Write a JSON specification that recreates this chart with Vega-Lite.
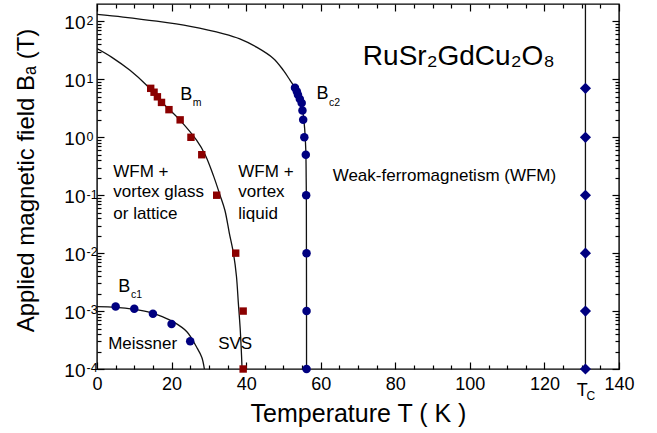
{
  "$schema": "https://vega.github.io/schema/vega-lite/v6.json",
  "width": 522,
  "height": 365,
  "autosize": {"type": "none"},
  "padding": {"left": 97, "top": 4, "right": 38, "bottom": 64},
  "background": "white",
  "config": {
    "view": {"stroke": "black", "strokeWidth": 1.4},
    "font": "Liberation Sans",
    "axis": {
      "domain": false,
      "grid": false,
      "tickColor": "black",
      "tickWidth": 1.2,
      "labelColor": "black",
      "titleColor": "black",
      "labelFont": "Liberation Sans",
      "titleFont": "Liberation Sans",
      "titleFontWeight": "normal",
      "labelFlush": false,
      "labelOverlap": false
    }
  },
  "datasets": {
    "curves": [
      {"curve": "Bc2", "T": 0, "B": 132},
      {"curve": "Bc2", "T": 7, "B": 119},
      {"curve": "Bc2", "T": 16, "B": 101},
      {"curve": "Bc2", "T": 25, "B": 82},
      {"curve": "Bc2", "T": 34, "B": 61},
      {"curve": "Bc2", "T": 38.3, "B": 50},
      {"curve": "Bc2", "T": 42.8, "B": 36},
      {"curve": "Bc2", "T": 47.3, "B": 23},
      {"curve": "Bc2", "T": 50, "B": 14.3},
      {"curve": "Bc2", "T": 51.8, "B": 9.6},
      {"curve": "Bc2", "T": 53, "B": 7.3},
      {"curve": "Bc2", "T": 54, "B": 5.2},
      {"curve": "Bc2", "T": 54.8, "B": 3.8},
      {"curve": "Bc2", "T": 55.3, "B": 2.5},
      {"curve": "Bc2", "T": 55.7, "B": 1.4},
      {"curve": "Bc2", "T": 56, "B": 0.6},
      {"curve": "Bc2", "T": 56.1, "B": 0.2},
      {"curve": "Bc2", "T": 56.15, "B": 0.08},
      {"curve": "Bc2", "T": 56.2, "B": 0.0001},
      {"curve": "Bm", "T": 0, "B": 34},
      {"curve": "Bm", "T": 4, "B": 24},
      {"curve": "Bm", "T": 8.85, "B": 14.3},
      {"curve": "Bm", "T": 13.3, "B": 7.9},
      {"curve": "Bm", "T": 17.8, "B": 3.8},
      {"curve": "Bm", "T": 22.3, "B": 1.96},
      {"curve": "Bm", "T": 26.7, "B": 0.89},
      {"curve": "Bm", "T": 29, "B": 0.5},
      {"curve": "Bm", "T": 31.2, "B": 0.22},
      {"curve": "Bm", "T": 33, "B": 0.1},
      {"curve": "Bm", "T": 34.3, "B": 0.055},
      {"curve": "Bm", "T": 35.5, "B": 0.022},
      {"curve": "Bm", "T": 36.6, "B": 0.0099},
      {"curve": "Bm", "T": 37.4, "B": 0.004},
      {"curve": "Bm", "T": 37.9, "B": 0.0014},
      {"curve": "Bm", "T": 38.4, "B": 0.0005},
      {"curve": "Bm", "T": 38.8, "B": 0.00015},
      {"curve": "Bm", "T": 38.9, "B": 0.0001},
      {"curve": "Bc1", "T": 0, "B": 0.00119},
      {"curve": "Bc1", "T": 5, "B": 0.00116},
      {"curve": "Bc1", "T": 10, "B": 0.00107},
      {"curve": "Bc1", "T": 14.2, "B": 0.00095},
      {"curve": "Bc1", "T": 17.5, "B": 0.0008},
      {"curve": "Bc1", "T": 20.5, "B": 0.00065},
      {"curve": "Bc1", "T": 24.1, "B": 0.00044},
      {"curve": "Bc1", "T": 26.7, "B": 0.00024},
      {"curve": "Bc1", "T": 28.1, "B": 0.00016},
      {"curve": "Bc1", "T": 28.8, "B": 0.0001},
      {"curve": "Tc", "T": 131, "B": 0.0001},
      {"curve": "Tc", "T": 131, "B": 200}
    ],
    "points": [
      {"series": "Bc2", "T": 53.1, "B": 7.2},
      {"series": "Bc2", "T": 53.6, "B": 6.2},
      {"series": "Bc2", "T": 53.9, "B": 5.4},
      {"series": "Bc2", "T": 54.4, "B": 4.6},
      {"series": "Bc2", "T": 54.9, "B": 3.9},
      {"series": "Bc2", "T": 55.1, "B": 2.9},
      {"series": "Bc2", "T": 55.3, "B": 2},
      {"series": "Bc2", "T": 55.6, "B": 1},
      {"series": "Bc2", "T": 56, "B": 0.5},
      {"series": "Bc2", "T": 56.1, "B": 0.1},
      {"series": "Bc2", "T": 56.2, "B": 0.01},
      {"series": "Bc2", "T": 56.2, "B": 0.001},
      {"series": "Bc2", "T": 56.2, "B": 0.0001},
      {"series": "Bc1", "T": 5, "B": 0.0012},
      {"series": "Bc1", "T": 10, "B": 0.0011},
      {"series": "Bc1", "T": 15, "B": 0.0009},
      {"series": "Bc1", "T": 20, "B": 0.0006},
      {"series": "Bc1", "T": 25, "B": 0.0003},
      {"series": "Bm", "T": 14.4, "B": 7},
      {"series": "Bm", "T": 15.3, "B": 6},
      {"series": "Bm", "T": 16.2, "B": 5},
      {"series": "Bm", "T": 17.3, "B": 4},
      {"series": "Bm", "T": 19.3, "B": 3},
      {"series": "Bm", "T": 22.3, "B": 2},
      {"series": "Bm", "T": 25.2, "B": 1},
      {"series": "Bm", "T": 28.1, "B": 0.5},
      {"series": "Bm", "T": 32.1, "B": 0.1},
      {"series": "Bm", "T": 37.2, "B": 0.01},
      {"series": "Bm", "T": 39.2, "B": 0.001},
      {"series": "Bm", "T": 39.2, "B": 0.0001},
      {"series": "Tc", "T": 131, "B": 7},
      {"series": "Tc", "T": 131, "B": 1},
      {"series": "Tc", "T": 131, "B": 0.1},
      {"series": "Tc", "T": 131, "B": 0.01},
      {"series": "Tc", "T": 131, "B": 0.001},
      {"series": "Tc", "T": 131, "B": 0.0001}
    ],
    "notes": [
      {"T": 4.37, "B": 0.207, "text": "WFM +"},
      {"T": 4.37, "B": 0.0935, "text": "vortex glass"},
      {"T": 4.37, "B": 0.0396, "text": "or lattice"},
      {"T": 37.9, "B": 0.207, "text": "WFM +"},
      {"T": 37.9, "B": 0.0935, "text": "vortex"},
      {"T": 37.9, "B": 0.0396, "text": "liquid"},
      {"T": 63.2, "B": 0.174, "text": "Weak-ferromagnetism (WFM)"},
      {"T": 3.0, "B": 0.000219, "text": "Meissner"},
      {"T": 32.5, "B": 0.000219, "text": "SVS"}
    ],
    "syms": [
      {"T": 22.3, "B": 4.44, "text": "B"},
      {"T": 58.9, "B": 4.65, "text": "B"},
      {"T": 5.7, "B": 0.00215, "text": "B"}
    ],
    "subs": [
      {"T": 25.7, "B": 3.5, "text": "m"},
      {"T": 62.2, "B": 3.5, "text": "c2"},
      {"T": 9.1, "B": 0.0017, "text": "c1"}
    ],
    "formula": [
      {"T": 71.3, "B": 17.4, "text": "RuSr₂GdCu₂O₈"}
    ]
  },
  "layer": [
    {
      "data": {"name": "curves"},
      "mark": {"type": "line", "color": "#111111", "strokeWidth": 1.3, "interpolate": "catmull-rom", "clip": true},
      "encoding": {
        "x": {"field": "T", "type": "quantitative", "scale": {"domain": [0, 140], "nice": false, "zero": false},
          "axis": {"orient": "bottom", "values": [0, 20, 40, 60, 80, 100, 120, 140], "tickSize": -7, "labelFontSize": 18, "labelPadding": 13.8, "title": "Temperature  T ( K )", "titleFontSize": 25, "titlePadding": 8}},
        "y": {"field": "B", "type": "quantitative", "scale": {"type": "log", "domain": [0.0001, 200], "nice": false},
          "axis": {"orient": "left", "values": [0.0001, 0.001, 0.01, 0.1, 1, 10, 100], "tickSize": -7, "labelExpr": "'10'", "labelFontSize": 19, "labelPadding": 19, "labelAlign": "right", "labelBaseline": "middle", "labelOffset": 1.5, "title": "Applied  magnetic field  Bₐ (T)", "titleFontSize": 24, "titlePadding": 25, "titleY": 176}},
        "detail": {"field": "curve"},
        "order": {"field": "B", "sort": "descending"}
      }
    },
    {
      "data": {"name": "points"},
      "transform": [{"filter": "datum.series == 'Bc2' || datum.series == 'Bc1'"}],
      "mark": {"type": "point", "shape": "circle", "filled": true, "size": 72, "color": "#000080", "opacity": 1},
      "encoding": {
        "x": {"field": "T", "type": "quantitative", "scale": {"domain": [0, 140], "nice": false, "zero": false},
          "axis": {"orient": "bottom", "values": [5, 10, 15, 25, 30, 35, 45, 50, 55, 65, 70, 75, 85, 90, 95, 105, 110, 115, 125, 130, 135], "tickSize": -4, "labelExpr": "datum.value == 130 ? 'T' : ''", "labelFontSize": 18, "labelPadding": 16.8, "title": null}},
        "y": {"field": "B", "type": "quantitative", "scale": {"type": "log", "domain": [0.0001, 200], "nice": false},
          "axis": {"orient": "left", "values": [0.0001, 0.001, 0.01, 0.1, 1, 10, 100], "ticks": false, "labelExpr": "'' + round(log(datum.value) / LN10)", "labelFontSize": 12.5, "labelPadding": 11, "labelAlign": "left", "labelBaseline": "middle", "labelOffset": -1.2, "title": null}}
      }
    },
    {
      "data": {"name": "points"},
      "transform": [{"filter": "datum.series == 'Bm'"}],
      "mark": {"type": "point", "shape": "square", "filled": true, "size": 55, "color": "#8b0000", "opacity": 1},
      "encoding": {
        "x": {"field": "T", "type": "quantitative", "scale": {"domain": [0, 140], "nice": false, "zero": false},
          "axis": {"orient": "top", "values": [0, 20, 40, 60, 80, 100, 120, 140], "tickSize": -7, "labels": false, "title": null}},
        "y": {"field": "B", "type": "quantitative", "scale": {"type": "log", "domain": [0.0001, 200], "nice": false},
          "axis": {"orient": "left", "values": [0.0002, 0.0003, 0.0004, 0.0005, 0.0006, 0.0007, 0.0008, 0.0009, 0.002, 0.003, 0.004, 0.005, 0.006, 0.007, 0.008, 0.009, 0.02, 0.03, 0.04, 0.05, 0.06, 0.07, 0.08, 0.09, 0.2, 0.3, 0.4, 0.5, 0.6, 0.7, 0.8, 0.9, 2, 3, 4, 5, 6, 7, 8, 9, 20, 30, 40, 50, 60, 70, 80, 90], "tickSize": -4, "labels": false, "title": null}}
      }
    },
    {
      "data": {"name": "points"},
      "transform": [{"filter": "datum.series == 'Tc'"}],
      "mark": {"type": "point", "shape": "diamond", "filled": true, "size": 125, "color": "#000080", "opacity": 1},
      "encoding": {
        "x": {"field": "T", "type": "quantitative", "scale": {"domain": [0, 140], "nice": false, "zero": false},
          "axis": {"orient": "top", "values": [5, 10, 15, 25, 30, 35, 45, 50, 55, 65, 70, 75, 85, 90, 95, 105, 110, 115, 125, 130, 135], "tickSize": -4, "labels": false, "title": null}},
        "y": {"field": "B", "type": "quantitative", "scale": {"type": "log", "domain": [0.0001, 200], "nice": false},
          "axis": {"orient": "right", "values": [0.0001, 0.001, 0.01, 0.1, 1, 10, 100], "tickSize": -7, "labels": false, "title": null}}
      }
    },
    {
      "data": {"name": "notes"},
      "mark": {"type": "text", "align": "left", "baseline": "alphabetic", "fontSize": 17, "font": "Liberation Sans", "color": "black"},
      "encoding": {
        "x": {"field": "T", "type": "quantitative", "scale": {"domain": [0, 140], "nice": false, "zero": false},
          "axis": {"orient": "bottom", "values": [130], "ticks": false, "labelExpr": "'C'", "labelFontSize": 12, "labelPadding": 21.5, "labelOffset": 8.7, "title": null}},
        "y": {"field": "B", "type": "quantitative", "scale": {"type": "log", "domain": [0.0001, 200], "nice": false},
          "axis": {"orient": "right", "values": [0.0002, 0.0003, 0.0004, 0.0005, 0.0006, 0.0007, 0.0008, 0.0009, 0.002, 0.003, 0.004, 0.005, 0.006, 0.007, 0.008, 0.009, 0.02, 0.03, 0.04, 0.05, 0.06, 0.07, 0.08, 0.09, 0.2, 0.3, 0.4, 0.5, 0.6, 0.7, 0.8, 0.9, 2, 3, 4, 5, 6, 7, 8, 9, 20, 30, 40, 50, 60, 70, 80, 90], "tickSize": -4, "labels": false, "title": null}},
        "text": {"field": "text"}
      }
    },
    {
      "data": {"name": "syms"},
      "mark": {"type": "text", "align": "left", "baseline": "alphabetic", "fontSize": 18, "font": "Liberation Sans", "color": "black"},
      "encoding": {
        "x": {"field": "T", "type": "quantitative", "axis": null},
        "y": {"field": "B", "type": "quantitative", "axis": null},
        "text": {"field": "text"}
      }
    },
    {
      "data": {"name": "subs"},
      "mark": {"type": "text", "align": "left", "baseline": "alphabetic", "fontSize": 10.5, "font": "Liberation Sans", "color": "black"},
      "encoding": {
        "x": {"field": "T", "type": "quantitative", "axis": null},
        "y": {"field": "B", "type": "quantitative", "axis": null},
        "text": {"field": "text"}
      }
    },
    {
      "data": {"name": "formula"},
      "mark": {"type": "text", "align": "left", "baseline": "alphabetic", "fontSize": 28, "font": "Liberation Sans", "color": "black"},
      "encoding": {
        "x": {"field": "T", "type": "quantitative", "axis": null},
        "y": {"field": "B", "type": "quantitative", "axis": null},
        "text": {"field": "text"}
      }
    }
  ],
  "resolve": {"axis": {"x": "independent", "y": "independent"}}
}
